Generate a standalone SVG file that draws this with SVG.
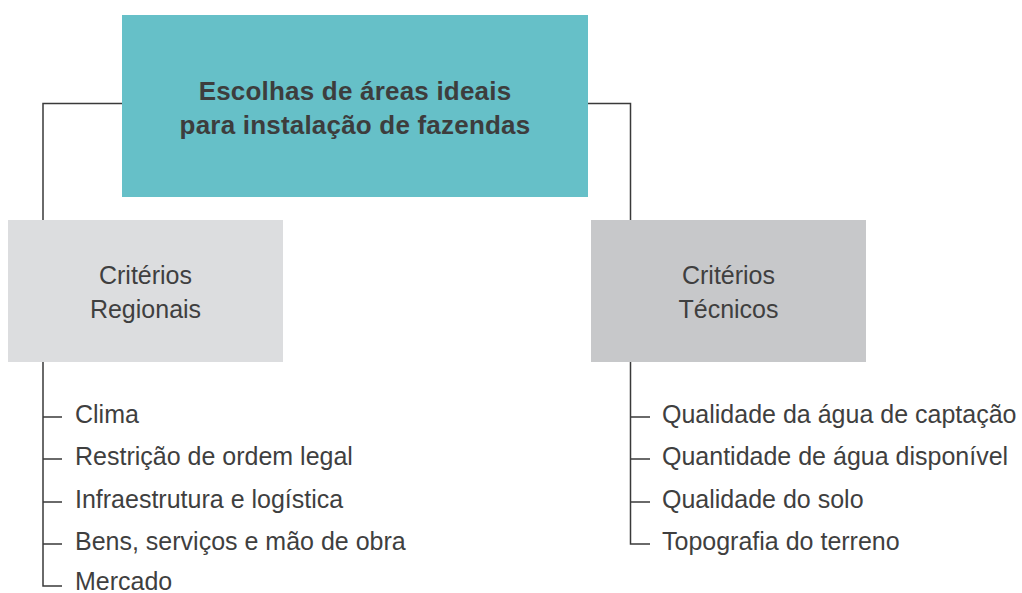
<svg xmlns="http://www.w3.org/2000/svg" width="1022" height="593" viewBox="0 0 1022 593">
<style>
.t{font-family:"Liberation Sans",Arial,sans-serif;font-size:25px;fill:#3f3f3f}
.h{font-family:"Liberation Sans",Arial,sans-serif;font-size:26px;font-weight:bold;fill:#3d3d3d;letter-spacing:0.2px}
.c{fill:none;stroke:#3a3a3a;stroke-width:1.5}
</style>
<rect width="1022" height="593" fill="#fff"/>
<g id="connectors">
<path class="c" d="M122 103.5H43V220"/>
<path class="c" d="M588 103.5H630.5V220"/>
<path class="c" d="M43 362V586H62M43 417H62M43 459H62M43 502H62M43 544H62"/>
<path class="c" d="M630.5 362V544H650M630.5 417H650M630.5 459H650M630.5 502H650"/>
</g>
<g id="root">
<rect x="122" y="15" width="466" height="182" fill="#66c0c8"/>
<text class="h" x="355" y="100" text-anchor="middle">Escolhas de áreas ideais</text>
<text class="h" x="355" y="134" text-anchor="middle">para instalação de fazendas</text>
</g>
<g id="regionais">
<rect x="8" y="220" width="275" height="142" fill="#dcdddf"/>
<text class="t" x="145.5" y="284" text-anchor="middle">Critérios</text>
<text class="t" x="145.5" y="318" text-anchor="middle">Regionais</text>
</g>
<g id="tecnicos">
<rect x="591" y="220" width="275" height="142" fill="#c7c8ca"/>
<text class="t" x="728.5" y="284" text-anchor="middle">Critérios</text>
<text class="t" x="728.5" y="318" text-anchor="middle">Técnicos</text>
</g>
<g id="lista-regionais">
<text class="t" x="75" y="423">Clima</text>
<text class="t" x="75" y="465">Restrição de ordem legal</text>
<text class="t" x="75" y="508">Infraestrutura e logística</text>
<text class="t" x="75" y="550">Bens, serviços e mão de obra</text>
<text class="t" x="75" y="590">Mercado</text>
</g>
<g id="lista-tecnicos">
<text class="t" x="662" y="423">Qualidade da água de captação</text>
<text class="t" x="662" y="465">Quantidade de água disponível</text>
<text class="t" x="662" y="508">Qualidade do solo</text>
<text class="t" x="662" y="550">Topografia do terreno</text>
</g>
</svg>
